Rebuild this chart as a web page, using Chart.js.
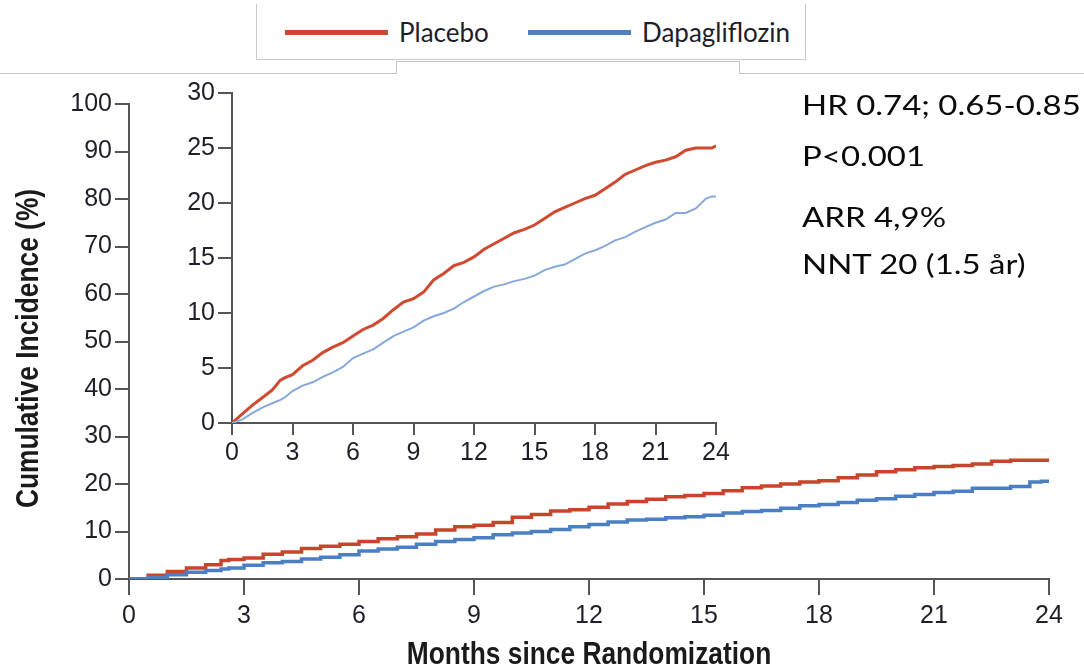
<!DOCTYPE html>
<html>
<head>
<meta charset="utf-8">
<script src="https://cdn.jsdelivr.net/npm/chart.js@4.4.1/dist/chart.umd.min.js"></script>
<style>
    html, body { margin: 0; padding: 0; background: #fff; }
    body { width: 1084px; height: 667px; position: relative; overflow: hidden; }
    canvas { position: absolute; }
    #mainChart { left: 0; top: 0; }
    #insetChart { left: 150px; top: 70px; }

    .legend-box { position: absolute; left: 256px; top: 4px; width: 548px; height: 55px;
        border: 1.5px solid #c9c9c9; border-top: none; }
    .rule { position: absolute; border-top: 1.5px solid #c4c4c4; height: 0; top: 73px; }
    .tab { position: absolute; left: 396px; top: 61px; width: 342px; height: 12px;
        border: 1.5px solid #c4c4c4; border-bottom: none; }
    .swatch { position: absolute; height: 5px; top: 30px; }
    .legend-label { position: absolute; top: 14px; font: 26px Lato, sans-serif; color: #1e1e2a; line-height: 36px; }

    .stat { position: absolute; left: 802px; font: 27px Lato, sans-serif; color: #0a0a0a;
        line-height: 32px; white-space: nowrap; transform: scaleX(1.22); transform-origin: left center; }
</style>
</head>
<body>
<div class="legend-box"></div>
<div class="rule" style="left:0;width:396px"></div>
<div class="tab"></div>
<div class="rule" style="left:739px;width:345px"></div>
<div class="swatch" style="left:285px;width:103px;background:#c9482f"></div>
<div class="legend-label" style="left:399px">Placebo</div>
<div class="swatch" style="left:528px;width:103px;background:#4f80c4"></div>
<div class="legend-label" style="left:642px">Dapagliflozin</div>

<canvas id="mainChart" width="1084" height="667"></canvas>
<canvas id="insetChart" width="600" height="400"></canvas>

<div class="stat" style="top:89px">HR 0.74; 0.65-0.85</div>
<div class="stat" style="top:140px">P&lt;0.001</div>
<div class="stat" style="top:201px">ARR 4,9%</div>
<div class="stat" style="top:248px">NNT 20 (1.5 år)</div>

<script>
// cumulative incidence (%) by months since randomization
const months = [0, 0.5, 1, 1.5, 2, 2.4, 2.6, 3, 3.5, 4, 4.5, 5, 5.5, 6, 6.5, 7, 7.5, 8, 8.5, 9,
    9.5, 10, 10.5, 11, 11.5, 12, 12.5, 13, 13.5, 14, 14.5, 15, 15.5, 16, 16.5, 17, 17.5, 18,
    18.5, 19, 19.5, 20, 20.5, 21, 21.5, 22, 22.5, 23, 23.5, 23.8, 24];
const placebo = [0, 0.8, 1.6, 2.3, 3.0, 3.9, 4.1, 4.4, 5.2, 5.7, 6.4, 6.9, 7.3, 7.9, 8.5, 8.9,
    9.5, 10.3, 11.0, 11.3, 11.9, 13.0, 13.6, 14.3, 14.6, 15.1, 15.8, 16.3, 16.8, 17.3, 17.6,
    18.0, 18.6, 19.2, 19.6, 20.0, 20.4, 20.7, 21.3, 21.9, 22.6, 23.0, 23.4, 23.7, 23.9, 24.2,
    24.8, 25.0, 25.0, 25.0, 25.2];
const dapagliflozin = [0, 0.3, 0.9, 1.4, 1.8, 2.1, 2.3, 2.9, 3.4, 3.7, 4.2, 4.6, 5.1, 5.9, 6.3,
    6.7, 7.3, 7.9, 8.3, 8.7, 9.3, 9.7, 10.0, 10.4, 11.0, 11.5, 12.0, 12.4, 12.6, 12.9, 13.1,
    13.4, 13.9, 14.2, 14.4, 14.9, 15.4, 15.7, 16.1, 16.6, 16.9, 17.4, 17.8, 18.2, 18.5, 19.1,
    19.1, 19.5, 20.4, 20.6, 20.6];

const monthTicks = [0, 3, 6, 9, 12, 15, 18, 21, 24];
const mainYMax = 100;
const insetYMax = 30;

const tickFont = "'Liberation Sans', Arial, sans-serif";
const axisGrey = '#555555';

const toPoints = (values) => months.map((m, i) => ({x: m, y: values[i]}));

// axis titles in a squeezed bold face, drawn after the chart
const condensedTitles = {
    id: 'condensedTitles',
    afterDraw(chart, args, opts) {
        if (!opts.x && !opts.y) return;
        const {ctx, chartArea} = chart;
        ctx.save();
        ctx.font = "bold 31px 'Liberation Sans', Arial, sans-serif";
        ctx.fillStyle = '#1a1a1a';
        ctx.textAlign = 'center';
        ctx.textBaseline = 'alphabetic';
        if (opts.x) {
            ctx.save();
            ctx.translate((chartArea.left + chartArea.right) / 2, chart.height - 3);
            ctx.scale(0.85, 1);
            ctx.fillText(opts.x, 0, 0);
            ctx.restore();
        }
        if (opts.y) {
            ctx.save();
            ctx.translate(38, (chartArea.top + chartArea.bottom) / 2 + 7);
            ctx.rotate(-Math.PI / 2);
            ctx.scale(0.85, 1);
            ctx.fillText(opts.y, 0, 0);
            ctx.restore();
        }
        ctx.restore();
    }
};

function axisStyle(tickLength) {
    return {
        grid: {
            display: true,
            drawOnChartArea: false,
            drawTicks: true,
            tickLength: tickLength,
            color: axisGrey,
            lineWidth: 2
        },
        border: {display: true, color: axisGrey, width: 2}
    };
}

function buildChart(canvas, opts) {
    return new Chart(canvas, {
        type: 'line',
        data: {
            datasets: [{
                label: 'Placebo',
                data: toPoints(placebo),
                borderColor: opts.red,
                borderWidth: opts.redWidth,
                stepped: opts.stepped,
                pointRadius: 0,
                order: 2
            }, {
                label: 'Dapagliflozin',
                data: toPoints(dapagliflozin),
                borderColor: opts.blue,
                borderWidth: opts.blueWidth,
                stepped: opts.stepped,
                pointRadius: 0,
                order: 1
            }]
        },
        options: {
            responsive: false,
            animation: false,
            events: [],
            layout: {padding: opts.padding},
            plugins: {
                legend: {display: false},
                tooltip: {enabled: false},
                condensedTitles: opts.titles
            },
            scales: {
                x: {
                    type: 'linear',
                    min: 0,
                    max: 24,
                    afterBuildTicks: (scale) => { scale.ticks = monthTicks.map((v) => ({value: v})); },
                    afterFit: (scale) => { scale.height = opts.xHeight; },
                    ticks: {
                        autoSkip: false,
                        maxRotation: 0,
                        padding: opts.xTickPad,
                        color: '#1f1f2a',
                        font: {family: tickFont, size: opts.tickSize}
                    },
                    ...axisStyle(opts.xTickLen)
                },
                y: {
                    min: 0,
                    max: opts.yMax,
                    afterFit: (scale) => { scale.width = opts.yWidth; },
                    ticks: {
                        stepSize: opts.yStep,
                        padding: 3,
                        color: '#1f1f2a',
                        font: {family: tickFont, size: opts.tickSize}
                    },
                    ...axisStyle(14)
                }
            }
        },
        plugins: [condensedTitles]
    });
}

buildChart(document.getElementById('mainChart'), {
    red: '#c8452c',
    blue: '#4a7fc4',
    redWidth: 3.5,
    blueWidth: 3.5,
    stepped: true,
    padding: {top: 104, right: 35, left: 0, bottom: 0},
    xHeight: 88,
    yWidth: 129,
    xTickLen: 16,
    xTickPad: 6,
    tickSize: 25,
    yMax: mainYMax,
    yStep: 10,
    titles: {x: 'Months since Randomization', y: 'Cumulative Incidence (%)'}
});

buildChart(document.getElementById('insetChart'), {
    red: '#d04a30',
    blue: '#86a8da',
    redWidth: 3,
    blueWidth: 2,
    stepped: false,
    padding: {top: 23, right: 34, left: 0, bottom: 0},
    xHeight: 47,
    yWidth: 82,
    xTickLen: 12,
    xTickPad: 3,
    tickSize: 25,
    yMax: insetYMax,
    yStep: 5,
    titles: {}
});
</script>
</body>
</html>
